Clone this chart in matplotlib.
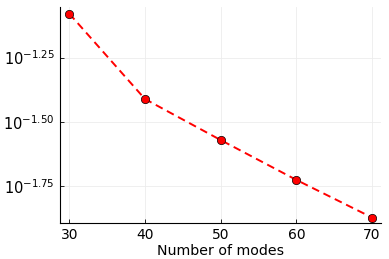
import matplotlib
matplotlib.use("Agg")
import matplotlib.pyplot as plt
import numpy as np

modes = [30, 40, 50, 60, 70]
error = [0.0832, 0.0388, 0.0269, 0.01884, 0.01346]
ytick_exp = [-1.75, -1.50, -1.25]
ytick_labels = [r"$10^{-1.75}$", r"$10^{-1.50}$", r"$10^{-1.25}$"]
xticks = [30, 40, 50, 60, 70]

fig = plt.figure(figsize=(3.89, 2.59), dpi=100)
ax = fig.add_axes([0.155, 0.138, 0.824, 0.835])

ax.plot(modes, error, color="red", linestyle=(0, (4, 2.5)), linewidth=1.4,
        marker="o", markersize=6, markerfacecolor="red",
        markeredgecolor="black", markeredgewidth=0.5)

ax.set_yscale("log")
ax.set_ylim(10 ** -1.893, 10 ** -1.054)
ax.set_xlim(28.81, 71.15)
ax.set_yticks([10 ** e for e in ytick_exp])
ax.set_yticklabels(ytick_labels)
ax.yaxis.set_minor_locator(matplotlib.ticker.NullLocator())
ax.set_xticks(xticks)

ax.grid(True, color="#ececec", linewidth=0.6)
ax.set_axisbelow(True)
for s in ["top", "right"]:
    ax.spines[s].set_visible(False)
for s in ["left", "bottom"]:
    ax.spines[s].set_linewidth(0.8)
ax.tick_params(direction="in", length=3, width=0.6, labelsize=10)
ax.tick_params(axis="y", labelsize=10.5, pad=4)
ax.set_xlabel("Number of modes", fontsize=10.2, labelpad=1)

fig.savefig("out.png", dpi=100)
